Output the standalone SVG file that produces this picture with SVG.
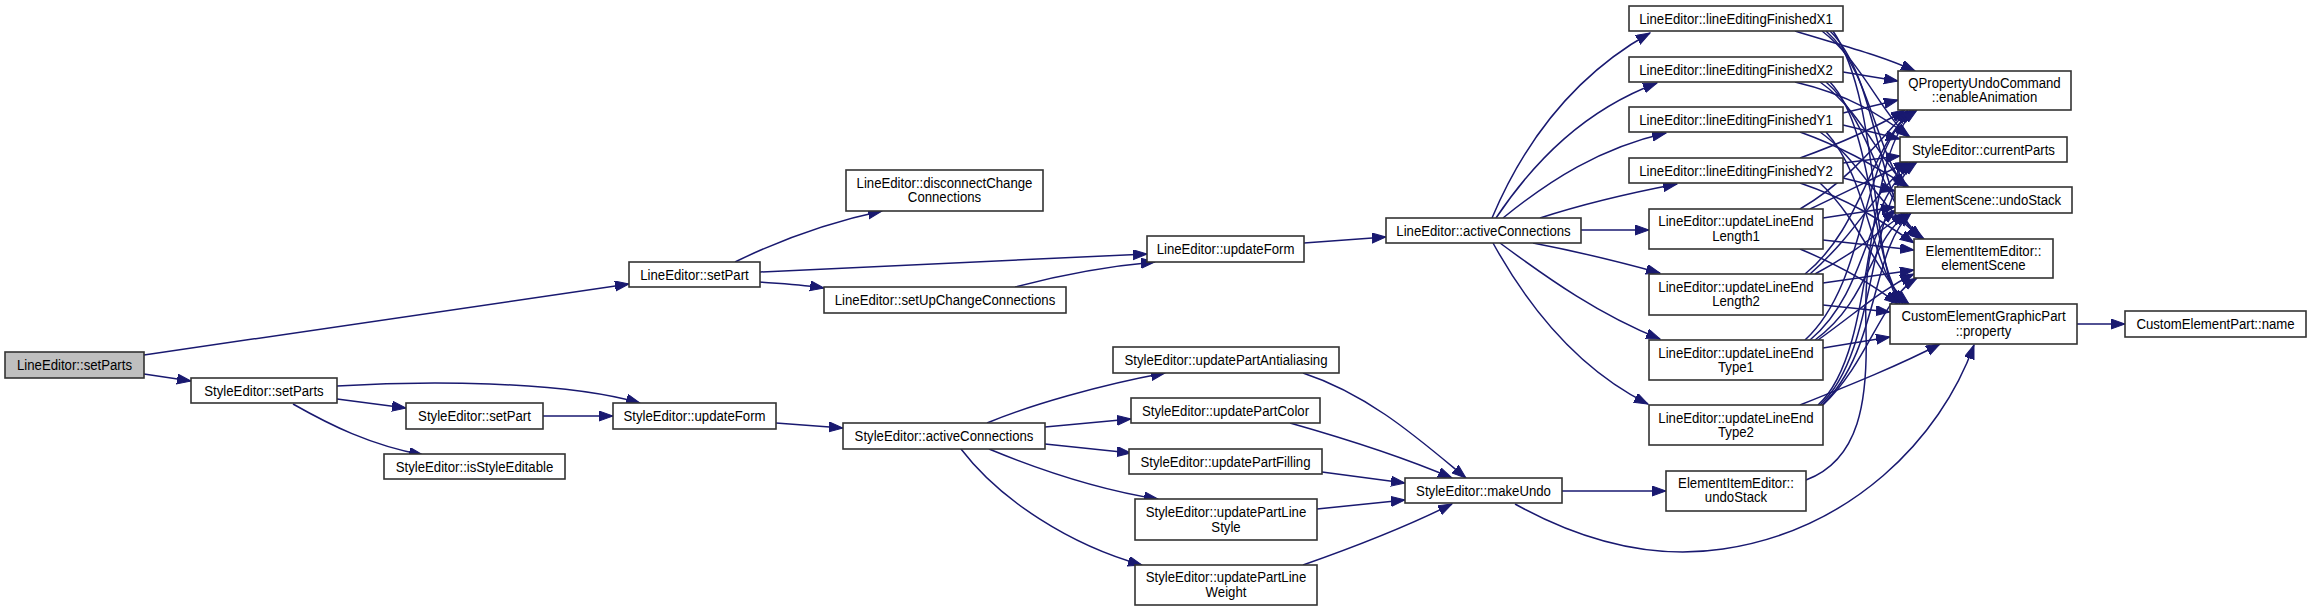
<svg xmlns="http://www.w3.org/2000/svg" width="2311" height="611" viewBox="0 0 2311 611">
<defs>
<style>
.n{fill:#ffffff;stroke:#333333;stroke-width:1.6}
.r{fill:#bfbfbf;stroke:#333333;stroke-width:1.6}
.t{font-family:"Liberation Sans",Arial,sans-serif;font-size:15px;fill:#000000;text-anchor:middle}
.e path{fill:none;stroke:#191970;stroke-width:1.5;marker-end:url(#ah)}
</style>
<marker id="ah" markerUnits="userSpaceOnUse" markerWidth="15" markerHeight="11" refX="14" refY="5" orient="auto" viewBox="0 0 15 11">
<path d="M0,0 L14,5 L0,10 z" fill="#191970" stroke="#191970" stroke-width="1"/>
</marker>
</defs>
<rect width="2311" height="611" fill="#ffffff"/>
<g id="connectors" class="e">
<path d="M144,355 L629,284"/>
<path d="M144,374 L191,381"/>
<path d="M735,262 C780,240 830,222 882,211"/>
<path d="M760,272 L1147,254"/>
<path d="M760,282 C785,284 805,285 824,288"/>
<path d="M1015,287 C1060,275 1110,266 1155,262"/>
<path d="M1304,243 L1386,237"/>
<path d="M1492,218 C1525,140 1575,75 1650,33"/>
<path d="M1496,218 C1535,160 1585,110 1657,83"/>
<path d="M1503,218 C1550,180 1600,148 1666,133"/>
<path d="M1540,218 C1580,205 1630,193 1677,184"/>
<path d="M1581,230 L1649,230"/>
<path d="M1533,243 C1580,252 1620,262 1660,273"/>
<path d="M1500,243 C1550,280 1600,315 1660,339"/>
<path d="M1493,243 C1530,310 1580,370 1648,404"/>
<path d="M337,386 C420,381 560,380 640,403"/>
<path d="M337,399 L406,408"/>
<path d="M293,404 C330,425 370,445 423,455"/>
<path d="M543,416 L613,416"/>
<path d="M776,423 L843,428"/>
<path d="M987,423 C1030,405 1100,385 1165,373"/>
<path d="M1045,427 L1131,419"/>
<path d="M1045,444 L1131,453"/>
<path d="M989,449 C1040,470 1100,490 1158,499"/>
<path d="M961,449 C1000,500 1070,545 1142,565"/>
<path d="M1303,373 C1370,395 1420,440 1466,478"/>
<path d="M1290,423 C1350,440 1410,460 1452,478"/>
<path d="M1322,472 L1405,483"/>
<path d="M1317,509 L1405,500"/>
<path d="M1303,565 C1360,545 1410,525 1452,504"/>
<path d="M1562,491 L1666,491"/>
<path d="M1515,504 C1580,540 1650,560 1723,549 C1850,530 1940,440 1974,345"/>
<path d="M1806,480 C1860,460 1868,400 1866,330 C1864,260 1872,228 1896,210"/>
<path d="M2077,324 L2125,324"/>
<path d="M1795,31 C1840,45 1880,55 1915,71"/>
<path d="M1822,31 C1860,60 1880,110 1908,137"/>
<path d="M1826,31 C1870,70 1875,150 1905,187"/>
<path d="M1830,31 C1880,80 1875,200 1920,239"/>
<path d="M1833,31 C1880,100 1870,260 1900,304"/>
<path d="M1843,72 L1898,81"/>
<path d="M1795,82 C1850,95 1880,115 1910,137"/>
<path d="M1820,82 C1860,110 1880,160 1907,187"/>
<path d="M1826,82 C1870,120 1880,200 1922,239"/>
<path d="M1830,82 C1875,130 1870,260 1903,304"/>
<path d="M1843,113 L1898,100"/>
<path d="M1843,125 L1900,139"/>
<path d="M1800,132 C1850,150 1880,170 1909,187"/>
<path d="M1820,132 C1860,160 1880,210 1924,239"/>
<path d="M1826,132 C1870,180 1870,270 1906,304"/>
<path d="M1800,158 C1850,140 1880,125 1905,110"/>
<path d="M1843,163 L1900,156"/>
<path d="M1843,178 L1895,191"/>
<path d="M1800,183 C1850,200 1880,220 1914,243"/>
<path d="M1820,183 C1860,220 1880,280 1909,304"/>
<path d="M1800,209 C1850,180 1880,140 1908,110"/>
<path d="M1810,209 C1850,190 1880,175 1908,162"/>
<path d="M1823,218 L1895,207"/>
<path d="M1823,240 L1914,250"/>
<path d="M1800,249 C1850,270 1880,290 1898,304"/>
<path d="M1805,274 C1860,230 1870,150 1911,110"/>
<path d="M1810,274 C1860,230 1875,190 1911,162"/>
<path d="M1815,274 C1860,250 1880,230 1905,213"/>
<path d="M1823,283 L1914,270"/>
<path d="M1823,305 L1890,312"/>
<path d="M1805,340 C1870,280 1860,150 1914,110"/>
<path d="M1810,340 C1870,290 1865,200 1914,162"/>
<path d="M1815,340 C1870,300 1870,240 1908,213"/>
<path d="M1818,340 C1860,310 1880,290 1914,274"/>
<path d="M1823,348 L1890,337"/>
<path d="M1818,405 C1880,350 1860,150 1917,110"/>
<path d="M1820,405 C1880,350 1865,200 1917,162"/>
<path d="M1822,405 C1880,350 1870,250 1911,213"/>
<path d="M1823,405 C1870,360 1880,300 1917,278"/>
<path d="M1800,405 C1850,385 1900,365 1940,344"/>
</g>
<g id="n_le_setParts"><rect class="r" x="5" y="352" width="139" height="26"/><text class="t" transform="translate(74.5,370) scale(0.88,1)">LineEditor::setParts</text></g>
<g id="n_le_setPart"><rect class="n" x="629" y="262" width="131" height="25"/><text class="t" transform="translate(694.5,279.5) scale(0.88,1)">LineEditor::setPart</text></g>
<g id="n_le_disconnect"><rect class="n" x="846" y="170" width="197" height="41"/><text class="t" transform="translate(944.5,188) scale(0.88,1)">LineEditor::disconnectChange</text><text class="t" transform="translate(944.5,202) scale(0.88,1)">Connections</text></g>
<g id="n_le_setUp"><rect class="n" x="824" y="287" width="242" height="26"/><text class="t" transform="translate(945,305) scale(0.88,1)">LineEditor::setUpChangeConnections</text></g>
<g id="n_le_updateForm"><rect class="n" x="1147" y="236" width="157" height="26"/><text class="t" transform="translate(1225.5,254) scale(0.88,1)">LineEditor::updateForm</text></g>
<g id="n_le_active"><rect class="n" x="1386" y="218" width="195" height="25"/><text class="t" transform="translate(1483.5,235.5) scale(0.88,1)">LineEditor::activeConnections</text></g>
<g id="n_x1"><rect class="n" x="1629" y="6" width="214" height="25"/><text class="t" transform="translate(1736,23.5) scale(0.88,1)">LineEditor::lineEditingFinishedX1</text></g>
<g id="n_x2"><rect class="n" x="1629" y="57" width="214" height="25"/><text class="t" transform="translate(1736,74.5) scale(0.88,1)">LineEditor::lineEditingFinishedX2</text></g>
<g id="n_y1"><rect class="n" x="1629" y="107" width="214" height="25"/><text class="t" transform="translate(1736,124.5) scale(0.88,1)">LineEditor::lineEditingFinishedY1</text></g>
<g id="n_y2"><rect class="n" x="1629" y="158" width="214" height="25"/><text class="t" transform="translate(1736,175.5) scale(0.88,1)">LineEditor::lineEditingFinishedY2</text></g>
<g id="n_len1"><rect class="n" x="1649" y="209" width="174" height="40"/><text class="t" transform="translate(1736,226) scale(0.88,1)">LineEditor::updateLineEnd</text><text class="t" transform="translate(1736,241) scale(0.88,1)">Length1</text></g>
<g id="n_len2"><rect class="n" x="1649" y="274" width="174" height="41"/><text class="t" transform="translate(1736,292) scale(0.88,1)">LineEditor::updateLineEnd</text><text class="t" transform="translate(1736,306) scale(0.88,1)">Length2</text></g>
<g id="n_type1"><rect class="n" x="1649" y="340" width="174" height="40"/><text class="t" transform="translate(1736,358) scale(0.88,1)">LineEditor::updateLineEnd</text><text class="t" transform="translate(1736,372) scale(0.88,1)">Type1</text></g>
<g id="n_type2"><rect class="n" x="1649" y="405" width="174" height="40"/><text class="t" transform="translate(1736,423) scale(0.88,1)">LineEditor::updateLineEnd</text><text class="t" transform="translate(1736,437) scale(0.88,1)">Type2</text></g>
<g id="n_qprop"><rect class="n" x="1898" y="71" width="173" height="39"/><text class="t" transform="translate(1984.5,88) scale(0.88,1)">QPropertyUndoCommand</text><text class="t" transform="translate(1984.5,102) scale(0.88,1)">::enableAnimation</text></g>
<g id="n_currentParts"><rect class="n" x="1900" y="137" width="167" height="25"/><text class="t" transform="translate(1983.5,154.5) scale(0.88,1)">StyleEditor::currentParts</text></g>
<g id="n_es_undoStack"><rect class="n" x="1895" y="187" width="177" height="26"/><text class="t" transform="translate(1983.5,205) scale(0.88,1)">ElementScene::undoStack</text></g>
<g id="n_elementScene"><rect class="n" x="1914" y="239" width="139" height="39"/><text class="t" transform="translate(1983.5,256) scale(0.88,1)">ElementItemEditor::</text><text class="t" transform="translate(1983.5,270) scale(0.88,1)">elementScene</text></g>
<g id="n_property"><rect class="n" x="1890" y="304" width="187" height="40"/><text class="t" transform="translate(1983.5,321) scale(0.88,1)">CustomElementGraphicPart</text><text class="t" transform="translate(1983.5,336) scale(0.88,1)">::property</text></g>
<g id="n_name"><rect class="n" x="2125" y="311" width="181" height="26"/><text class="t" transform="translate(2215.5,329) scale(0.88,1)">CustomElementPart::name</text></g>
<g id="n_eie_undoStack"><rect class="n" x="1666" y="471" width="140" height="40"/><text class="t" transform="translate(1736,488) scale(0.88,1)">ElementItemEditor::</text><text class="t" transform="translate(1736,502) scale(0.88,1)">undoStack</text></g>
<g id="n_se_setParts"><rect class="n" x="191" y="378" width="146" height="25"/><text class="t" transform="translate(264,395.5) scale(0.88,1)">StyleEditor::setParts</text></g>
<g id="n_se_setPart"><rect class="n" x="406" y="403" width="137" height="26"/><text class="t" transform="translate(474.5,421) scale(0.88,1)">StyleEditor::setPart</text></g>
<g id="n_se_updateForm"><rect class="n" x="613" y="403" width="163" height="26"/><text class="t" transform="translate(694.5,421) scale(0.88,1)">StyleEditor::updateForm</text></g>
<g id="n_se_isStyleEditable"><rect class="n" x="384" y="454" width="181" height="25"/><text class="t" transform="translate(474.5,471.5) scale(0.88,1)">StyleEditor::isStyleEditable</text></g>
<g id="n_se_active"><rect class="n" x="843" y="423" width="202" height="26"/><text class="t" transform="translate(944,441) scale(0.88,1)">StyleEditor::activeConnections</text></g>
<g id="n_se_anti"><rect class="n" x="1113" y="347" width="226" height="26"/><text class="t" transform="translate(1226,365) scale(0.88,1)">StyleEditor::updatePartAntialiasing</text></g>
<g id="n_se_color"><rect class="n" x="1131" y="398" width="189" height="25"/><text class="t" transform="translate(1225.5,415.5) scale(0.88,1)">StyleEditor::updatePartColor</text></g>
<g id="n_se_filling"><rect class="n" x="1129" y="449" width="193" height="25"/><text class="t" transform="translate(1225.5,466.5) scale(0.88,1)">StyleEditor::updatePartFilling</text></g>
<g id="n_se_lineStyle"><rect class="n" x="1135" y="499" width="182" height="41"/><text class="t" transform="translate(1226,517) scale(0.88,1)">StyleEditor::updatePartLine</text><text class="t" transform="translate(1226,532) scale(0.88,1)">Style</text></g>
<g id="n_se_lineWeight"><rect class="n" x="1135" y="565" width="182" height="40"/><text class="t" transform="translate(1226,582) scale(0.88,1)">StyleEditor::updatePartLine</text><text class="t" transform="translate(1226,597) scale(0.88,1)">Weight</text></g>
<g id="n_se_makeUndo"><rect class="n" x="1405" y="478" width="157" height="25"/><text class="t" transform="translate(1483.5,495.5) scale(0.88,1)">StyleEditor::makeUndo</text></g>
</svg>
